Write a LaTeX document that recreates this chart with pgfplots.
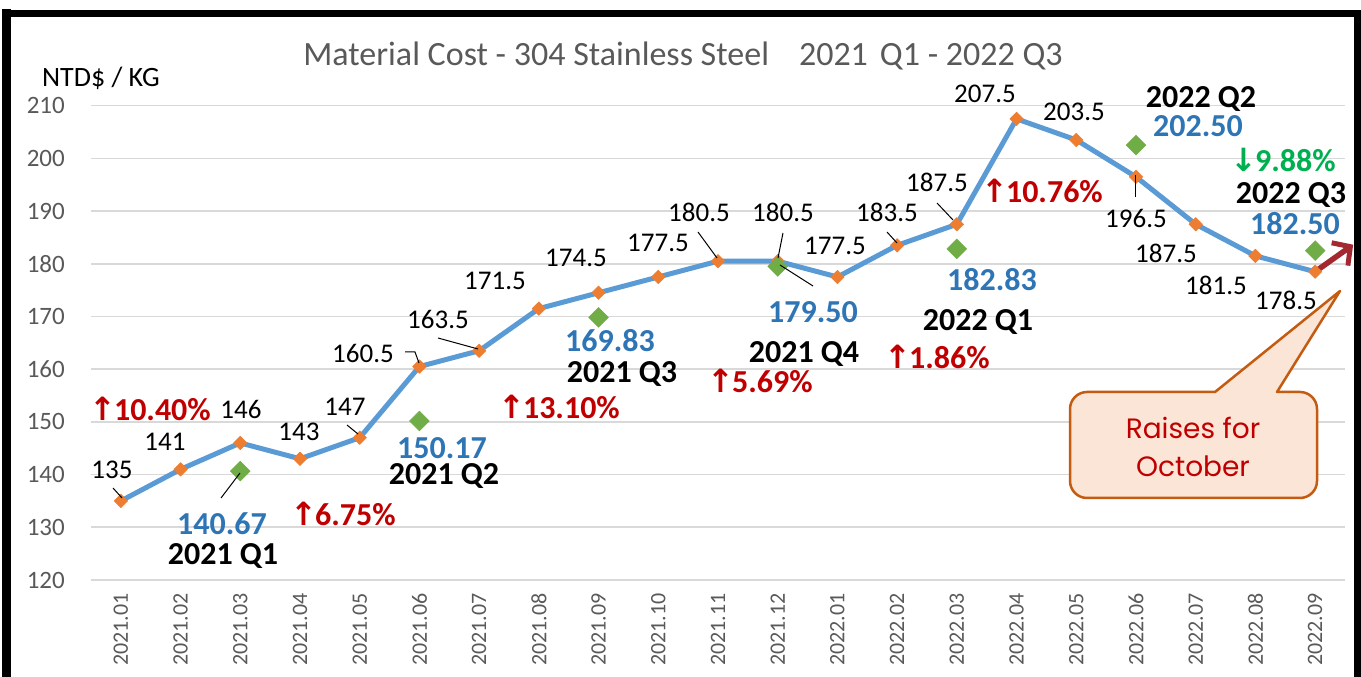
\documentclass[border=0pt]{standalone}
\usepackage{pgfplots}
\pgfplotsset{compat=1.18}
\usepackage{fontspec}
\setmainfont{Carlito}
\newfontfamily\sym{DejaVu Sans}
\newfontfamily\callfont{Poppins}
\usetikzlibrary{arrows.meta}
\definecolor{lineblue}{HTML}{5B9BD5}
\definecolor{mkorange}{HTML}{ED7D31}
\definecolor{mkgreen}{HTML}{70AD47}
\definecolor{valblue}{HTML}{2E75B6}
\definecolor{pctred}{HTML}{C00000}
\definecolor{pctgreen}{HTML}{00B050}
\definecolor{tickgray}{HTML}{595959}
\definecolor{gridgray}{HTML}{D9D9D9}
\definecolor{callfill}{HTML}{FBE5D6}
\definecolor{callborder}{HTML}{C55A11}
\definecolor{arrowred}{HTML}{A3282F}
\tikzset{
  dl/.style={font=\fontsize{27}{30}\selectfont, inner sep=0pt, text depth=0pt},
  bv/.style={font=\bfseries\fontsize{32}{36}\selectfont, text=valblue, inner sep=0pt, text depth=0pt},
  bq/.style={font=\bfseries\fontsize{32}{36}\selectfont, text=black, inner sep=0pt, text depth=0pt},
  bp/.style={font=\bfseries\fontsize{32}{36}\selectfont, text=pctred, inner sep=0pt, text depth=0pt},
  ld/.style={line width=1pt, black},
}
\newcommand{\up}{{\sym ↑}\hspace{-2pt}}
\newcommand{\down}{{\sym ↓}\hspace{-2pt}}
\begin{document}
\begin{tikzpicture}
\useasboundingbox (0,0) rectangle (1361pt,677pt);
\begin{axis}[
  at={(91pt,97pt)}, anchor=south west,
  scale only axis, width=1254pt, height=474.3pt,
  xmin=-0.5, xmax=20.5, ymin=120, ymax=210,
  ytick={120,130,...,210},
  xtick={0,...,20},
  xticklabels={2021.01,2021.02,2021.03,2021.04,2021.05,2021.06,2021.07,2021.08,2021.09,2021.10,2021.11,2021.12,2022.01,2022.02,2022.03,2022.04,2022.05,2022.06,2022.07,2022.08,2022.09},
  axis line style={draw=none},
  major tick length=0pt,
  ymajorgrids,
  grid style={draw=gridgray, line width=1.6pt},
  clip=false,
  /pgf/number format/assume math mode=true,
  yticklabel style={font=\fontsize{25}{30}\selectfont, text=tickgray, inner sep=0pt, anchor=east, xshift=-26pt},
  xticklabel style={font=\fontsize{22}{26}\selectfont, text=tickgray, inner sep=0pt, yshift=-13pt, rotate=90, anchor=east},
]
\addplot[color=lineblue, line width=5pt, line join=round, mark=square*, mark size=4.8pt,
  mark options={rotate=45, fill=mkorange, draw=mkorange, line width=0.5pt, solid}] coordinates {
(0,135) (1,141) (2,146) (3,143) (4,147) (5,160.5) (6,163.5) (7,171.5) (8,174.5) (9,177.5) (10,180.5)
(11,180.5) (12,177.5) (13,183.5) (14,187.5) (15,207.5) (16,203.5) (17,196.5) (18,187.5) (19,181.5) (20,178.5)};
\addplot[only marks, mark=square*, mark size=7pt, mark options={rotate=45, fill=mkgreen, draw=mkgreen, line width=0.5pt}] coordinates {
(2,140.67) (5,150.17) (8,169.83) (11,179.50) (14,182.83) (17,202.50) (20,182.50)};
\draw[arrowred, line width=5.5pt, -{Straight Barb[length=13pt, width=28pt, line width=5pt]}] (axis cs:20,178.5) -- ++(38pt,27pt);
\end{axis}
\begin{scope}[x=1pt, y=-1pt, yshift=677pt]
% frame
\draw[line width=9pt] (6.5,720) -- (6.5,9);
\draw[line width=7pt] (2,14) -- (1357,14) -- (1357,720);
% title and unit
\node[font=\fontsize{34}{38}\selectfont, text=tickgray, inner sep=0pt, text depth=0pt] at (683,54) {Material Cost - 304 Stainless Steel\hspace{30pt}2021\hspace{12pt}Q1 - 2022 Q3};
\node[font=\fontsize{28}{30}\selectfont, inner sep=0pt, text depth=0pt] at (101,77) {NTD\$ / KG};
% data labels
\node[dl] at (112,470) {135};
\node[dl] at (165,442) {141};
\node[dl] at (241,409) {146};
\node[dl] at (299,432) {143};
\node[dl] at (345,407) {147};
\node[dl] at (363,353) {160.5};
\node[dl] at (438,319) {163.5};
\node[dl] at (495,281) {171.5};
\node[dl] at (576,258) {174.5};
\node[dl] at (658,243) {177.5};
\node[dl] at (699,212) {180.5};
\node[dl] at (783,212) {180.5};
\node[dl] at (835,246) {177.5};
\node[dl] at (887,212) {183.5};
\node[dl] at (937,182) {187.5};
\node[dl] at (985,94) {207.5};
\node[dl] at (1074,112) {203.5};
\node[dl] at (1136,218) {196.5};
\node[dl] at (1166,253) {187.5};
\node[dl] at (1216,285) {181.5};
\node[dl] at (1286,300) {178.5};
% leaders
\draw[ld] (113,488) -- (122,498);
\draw[ld] (221,498) -- (240,473);
\draw[ld] (347,425) -- (358,434);
\draw[ld] (405,352) -- (415,352) -- (419,363);
\draw[ld] (438,338) -- (478,349);
\draw[ld] (698,232) -- (717,258);
\draw[ld] (783,233) -- (778,258);
\draw[ld] (780,265) -- (813,286);
\draw[ld] (887,232) -- (897,243);
\draw[ld] (937,203) -- (953,220);
\draw[ld] (1135,175) -- (1135,197);
% quarter values
\node[bv] at (222,524) {140.67};
\node[bv] at (442,448) {150.17};
\node[bv] at (610,340) {169.83};
\node[bv] at (813,312) {179.50};
\node[bv] at (992,279) {182.83};
\node[bv] at (1198,126) {202.50};
\node[bv] at (1295,223) {182.50};
\node[bq] at (223,554) {2021 Q1};
\node[bq] at (444,474) {2021 Q2};
\node[bq] at (622,372) {2021 Q3};
\node[bq] at (804,352) {2021 Q4};
\node[bq] at (978,320) {2022 Q1};
\node[bq] at (1201,97) {2022 Q2};
\node[bq] at (1291,193) {2022 Q3};
\node[bp] at (150,409) {\up10.40\%};
\node[bp] at (343,514) {\up6.75\%};
\node[bp] at (559,407) {\up13.10\%};
\node[bp] at (760,381) {\up5.69\%};
\node[bp] at (937,357) {\up1.86\%};
\node[bp] at (1042,191) {\up10.76\%};
\node[bp, text=pctgreen] at (1283,160) {\down9.88\%};
% callout
\draw[draw=callborder, fill=callfill, line width=2.5pt, line join=round]
  (1340,291) -- (1215,392) [rounded corners=17pt] -- (1070,392) -- (1070,498) -- (1317,498) -- (1317,392) [sharp corners] -- (1277,392) -- cycle;
\node[font=\callfont\fontsize{28}{30}\selectfont, text=pctred, inner sep=0pt, text depth=0pt] at (1193,428) {Raises for};
\node[font=\callfont\fontsize{28}{30}\selectfont, text=pctred, inner sep=0pt, text depth=0pt] at (1193,466) {October};
\end{scope}
\end{tikzpicture}
\end{document}
